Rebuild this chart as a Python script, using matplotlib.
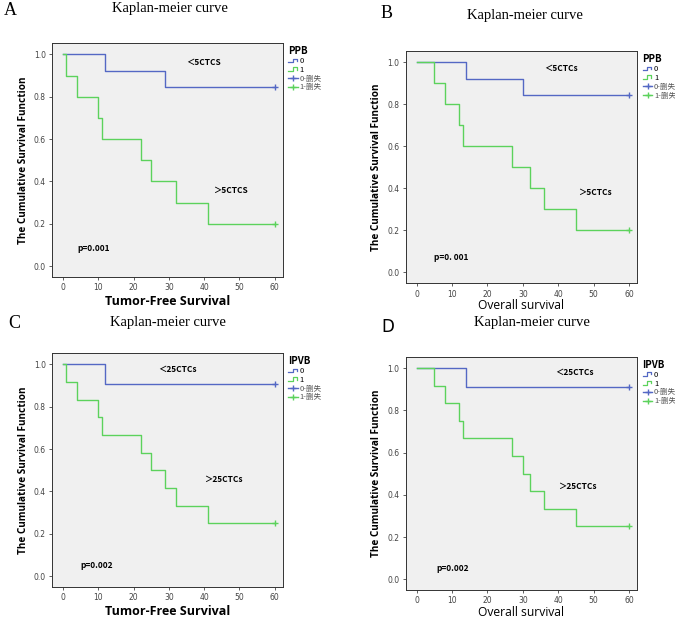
import matplotlib
matplotlib.use("Agg")
import matplotlib.pyplot as plt
from matplotlib.lines import Line2D
from matplotlib.legend_handler import HandlerBase
from matplotlib import font_manager

# step times (months) and survival after each step; last point is censored at 60
a_low_t = [0, 12, 29, 60]
a_low_s = [1.0, 0.923, 0.846, 0.846]
a_high_t = [0, 1, 4, 10, 11, 22, 25, 32, 41, 60]
a_high_s = [1.0, 0.9, 0.8, 0.7, 0.6, 0.5, 0.4, 0.3, 0.2, 0.2]

b_low_t = [0, 14, 30, 60]
b_low_s = [1.0, 0.923, 0.846, 0.846]
b_high_t = [0, 5, 8, 12, 13, 27, 32, 36, 45, 60]
b_high_s = [1.0, 0.9, 0.8, 0.7, 0.6, 0.5, 0.4, 0.3, 0.2, 0.2]

c_low_t = [0, 12, 60]
c_low_s = [1.0, 0.909, 0.909]
c_high_t = [0, 1, 4, 10, 11, 22, 25, 29, 32, 41, 60]
c_high_s = [1.0, 0.917, 0.833, 0.75, 0.667, 0.583, 0.5, 0.417, 0.333, 0.25, 0.25]

d_low_t = [0, 14, 60]
d_low_s = [1.0, 0.909, 0.909]
d_high_t = [0, 5, 8, 12, 13, 27, 30, 32, 36, 45, 60]
d_high_s = [1.0, 0.917, 0.833, 0.75, 0.667, 0.583, 0.5, 0.417, 0.333, 0.25, 0.25]

BLUE = "#5468c4"
GREEN = "#5cd25c"
CJK = ["Noto Sans CJK SC", "DejaVu Sans"]

# narrow font if there is one
names = set(f.name for f in font_manager.fontManager.ttflist)
NARROW = "Liberation Sans Narrow" if "Liberation Sans Narrow" in names else "Open Sans"
narrow_cond = NARROW == "Liberation Sans Narrow"


# little step icon for the "0" / "1" legend entries, like SPSS draws
class StepHandler(HandlerBase):
    def create_artists(self, legend, orig_handle, xdescent, ydescent, width, height, fontsize, trans):
        xs = [0, 0.45 * width, 0.45 * width, 0.85 * width, 0.85 * width]
        ys = [0.15 * height, 0.15 * height, 0.85 * height, 0.85 * height, 0.45 * height]
        ln = Line2D([x - xdescent for x in xs], [y - ydescent for y in ys],
                    color=orig_handle.get_color(), lw=0.9, transform=trans)
        return [ln]


panels = [
    dict(letter="A", lfont=dict(family="Liberation Serif", size=13), lpos=(0.006, 0.997),
         tpos=(0.252, 0.997), rect=[0.077, 0.553, 0.342, 0.377],
         low=(a_low_t, a_low_s), high=(a_high_t, a_high_s),
         lab_low=("＜5CTCS", 35, 0.96), lab_high=("＞5CTCS", 42.5, 0.36),
         p=("p=0.001", 4, 0.085), group="PPB", xlabel="Tumor-Free Survival", xbold=True),
    dict(letter="B", lfont=dict(family="Liberation Serif", size=13), lpos=(0.563, 0.992),
         tpos=(0.778, 0.986), rect=[0.601, 0.543, 0.343, 0.374],
         low=(b_low_t, b_low_s), high=(b_high_t, b_high_s),
         lab_low=("＜5CTCs", 36, 0.97), lab_high=("＞5CTCs", 45.5, 0.38),
         p=("p=0. 001", 5, 0.07), group="PPB", xlabel="Overall survival", xbold=False),
    dict(letter="C", lfont=dict(family="Liberation Serif", size=13), lpos=(0.012, 0.492),
         tpos=(0.249, 0.491), rect=[0.077, 0.053, 0.342, 0.377],
         low=(c_low_t, c_low_s), high=(c_high_t, c_high_s),
         lab_low=("＜25CTCs", 27, 0.975), lab_high=("＞25CTCs", 40, 0.457),
         p=("p=0.002", 5, 0.05), group="IPVB", xlabel="Tumor-Free Survival", xbold=True),
    dict(letter="D", lfont=dict(family="DejaVu Sans", size=12), lpos=(0.565, 0.487),
         tpos=(0.788, 0.491), rect=[0.601, 0.048, 0.343, 0.376],
         low=(d_low_t, d_low_s), high=(d_high_t, d_high_s),
         lab_low=("＜25CTCs", 39, 0.98), lab_high=("＞25CTCs", 40, 0.44),
         p=("p=0.002", 5.7, 0.05), group="IPVB", xlabel="Overall survival", xbold=False),
]

fig = plt.figure(figsize=(6.75, 6.2), dpi=100)

for pn in panels:
    fig.text(pn["lpos"][0], pn["lpos"][1], pn["letter"], ha="left", va="top", **pn["lfont"])
    fig.text(pn["tpos"][0], pn["tpos"][1], "Kaplan-meier curve", ha="center", va="top",
             family="Liberation Serif", size=10.5)

    ax = fig.add_axes(pn["rect"])
    ax.set_facecolor("#f0f0f0")
    t0, s0 = pn["low"]
    t1, s1 = pn["high"]
    ax.step(t0, s0, where="post", color=BLUE, lw=1)
    ax.step(t1, s1, where="post", color=GREEN, lw=1)
    ax.plot(t0[-1], s0[-1], "+", color=BLUE, ms=5, mew=1)
    ax.plot(t1[-1], s1[-1], "+", color=GREEN, ms=5, mew=1)

    ax.set_xlim(-3.1, 62.3)
    ax.set_ylim(-0.052, 1.052)
    ax.set_xticks([0, 10, 20, 30, 40, 50, 60])
    ax.set_yticks([0.0, 0.2, 0.4, 0.6, 0.8, 1.0])
    ax.set_yticklabels(["0.0", "0.2", "0.4", "0.6", "0.8", "1.0"])
    ax.tick_params(labelsize=5.5, colors="#444444", length=2, width=0.6, pad=2.5)
    for sp in ax.spines.values():
        sp.set_linewidth(0.7)
        sp.set_color("#333333")

    ax.set_ylabel("The Cumulative Survival Function", fontsize=9 if narrow_cond else 7.2,
                  fontweight="bold", family=NARROW, labelpad=3.5)
    if pn["xbold"]:
        ax.set_xlabel(pn["xlabel"], fontsize=11 if narrow_cond else 9,
                      fontweight="bold", family=NARROW, labelpad=2)
    else:
        ax.set_xlabel(pn["xlabel"], fontsize=10.5 if narrow_cond else 8.7,
                      family=NARROW, labelpad=0.5)

    name, x, y = pn["lab_low"]
    ax.text(x, y, name, fontsize=6, fontweight="bold", family=CJK, va="center")
    name, x, y = pn["lab_high"]
    ax.text(x, y, name, fontsize=6, fontweight="bold", family=CJK, va="center")
    name, x, y = pn["p"]
    ax.text(x, y, name, fontsize=6, fontweight="bold", family=CJK, va="center")

    step0 = Line2D([], [], color=BLUE, lw=1)
    step1 = Line2D([], [], color=GREEN, lw=1)
    handles = [step0, step1,
               Line2D([], [], color=BLUE, lw=1, marker="+", ms=5),
               Line2D([], [], color=GREEN, lw=1, marker="+", ms=5)]
    labels = ["0", "1", "0-删失", "1-删失"]
    leg = ax.legend(handles, labels, title=pn["group"], loc="upper left",
                    bbox_to_anchor=(1.0, 1.01), frameon=False, prop=dict(family=CJK, size=5.5),
                    handlelength=1.3, handletextpad=0.2, labelspacing=0.1, borderaxespad=0.3,
                    alignment="left", handler_map={step0: StepHandler(), step1: StepHandler()})
    for txt in leg.get_texts()[2:]:
        txt.set_color("#555555")
    leg.get_title().set_fontsize(7)
    leg.get_title().set_fontweight("bold")
    leg.get_title().set_family(CJK)

fig.savefig("out.png", dpi=100)
